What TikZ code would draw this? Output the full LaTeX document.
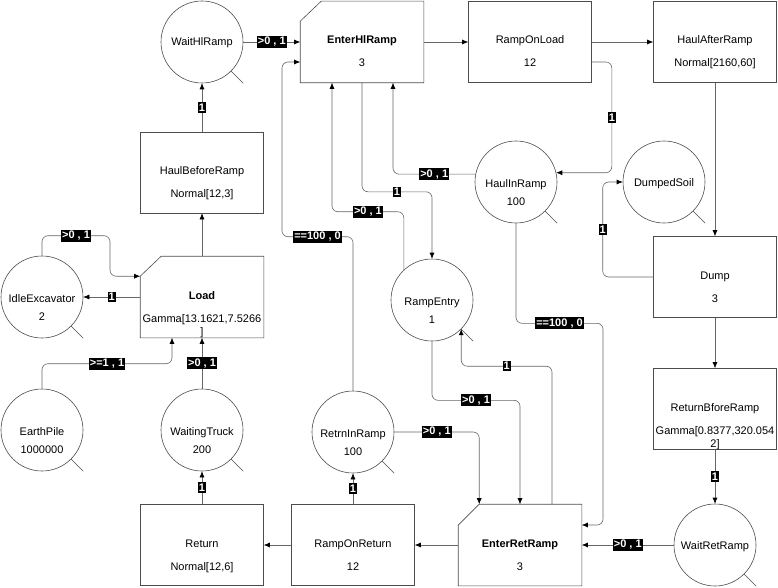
\documentclass[tikz,border=0pt]{standalone}
\usepackage{fontspec}
\setmainfont{Liberation Sans}
\usetikzlibrary{arrows.meta,calc}

\begin{document}
\begin{tikzpicture}[x=1pt, y=-1pt, >={Latex[length=6pt,width=5pt,color=black]}, semithick,
    font=\fontsize{11}{13}\selectfont,
    act/.style={rectangle, draw=black!70, minimum width=123pt, minimum height=81pt, inner sep=0pt},
    entry/.style={act, draw=none},
    place/.style={circle, draw=black!70, minimum size=82pt, inner sep=0pt},
    txt/.style={text width=124pt, align=center, anchor=base, inner sep=0pt},
    lab/.style={sharp corners, fill=black, text=white, font=\fontsize{11}{13}\selectfont\bfseries, inner xsep=1pt, inner ysep=1.5pt},
    flow/.style={->, draw=black!60, rounded corners=6pt},
    tail/.style={draw=black!70}]
    \useasboundingbox (0,0) rectangle (778,588);

    % activities
    \node[act]   (hbr)  at (202,172.5) {};
    \node[entry] (load) at (202,297)   {};
    \node[act]   (ret)  at (202,545)   {};
    \node[act]   (ror)  at (353,545)   {};
    \node[entry] (err)  at (520,545)   {};
    \node[entry] (ehr)  at (362,42)    {};
    \node[act]   (rol)  at (530,42)    {};
    \node[act]   (har)  at (715,42)    {};
    \node[act]   (dump) at (715,277)   {};
    \node[act]   (rbr)  at (715,409)   {};

    % cut corner of the entry activities
    \draw[draw=black!70] ($(ehr.north west)+(0,20)$) -- ($(ehr.north west)+(21,0)$) -- (ehr.north east) -- (ehr.south east) -- (ehr.south west) -- cycle;
    \draw[draw=black!70] ($(load.north west)+(0,20)$) -- ($(load.north west)+(21,0)$) -- (load.north east) -- (load.south east) -- (load.south west) -- cycle;
    \draw[draw=black!70] ($(err.north west)+(0,21)$) -- ($(err.north west)+(21,0)$) -- (err.north east) -- (err.south east) -- (err.south west) -- cycle;

    % queues
    \node[place] (wh)    at (202,42)  {};
    \node[place] (idle)  at (42,297)  {};
    \node[place] (earth) at (42,430)  {};
    \node[place] (wt)    at (202,430) {};
    \node[place] (rir)   at (353,432) {};
    \node[place] (wrr)   at (715,545) {};
    \node[place] (ds)    at (664,182) {};
    \node[place] (hir)   at (516,182) {};
    \node[place] (re)    at (432,300) {};

    \draw[tail] (wh.south east)    -- ++(12,12);
    \draw[tail] (idle.south east)  -- ++(12,12);
    \draw[tail] (earth.south east) -- ++(12,12);
    \draw[tail] (wt.south east)    -- ++(12,12);
    \draw[tail] (rir.south east)   -- ++(12,12);
    \draw[tail] (wrr.south east)   -- ++(12,12);
    \draw[tail] (ds.south east)    -- ++(12,12);
    \draw[tail] (hir.south east)   -- ++(12,12);
    \draw[tail] (re.south east)    -- ++(12,12);

    % texts
    \node[txt] (hbr-t)  at ([yshift=-2pt]hbr.center)  {HaulBeforeRamp\\[10pt]Normal[12,3]};
    \node[txt] (load-t) at ([yshift=-2pt]load.center) {\textbf{Load}\\[10pt]Gamma[13.1621,7.5266\\]};
    \node[txt] (ret-t)  at ([yshift=-2pt]ret.center)  {Return\\[10pt]Normal[12,6]};
    \node[txt] (ror-t)  at ([yshift=-2pt]ror.center)  {RampOnReturn\\[10pt]12};
    \node[txt] (err-t)  at ([yshift=-2pt]err.center)  {\textbf{EnterRetRamp}\\[10pt]3};
    \node[txt] (ehr-t)  at ([yshift=-2pt]ehr.center)  {\textbf{EnterHlRamp}\\[10pt]3};
    \node[txt] (rol-t)  at ([yshift=-2pt]rol.center)  {RampOnLoad\\[10pt]12};
    \node[txt] (har-t)  at ([yshift=-2pt]har.center)  {HaulAfterRamp\\[10pt]Normal[2160,60]};
    \node[txt] (dump-t) at ([yshift=-2pt]dump.center) {Dump\\[10pt]3};
    \node[txt] (rbr-t)  at ([yshift=-2pt]rbr.center)  {ReturnBforeRamp\\[10pt]Gamma[0.8377,320.054\\2]};

    \node[txt] (wh-t)    at ([yshift=-4pt]wh.center)    {WaitHlRamp};
    \node[txt] (idle-t)  at ([yshift=-5pt]idle.center)  {IdleExcavator\\[5pt]2};
    \node[txt] (earth-t) at ([yshift=-5pt]earth.center) {EarthPile\\[5pt]1000000};
    \node[txt] (wt-t)    at ([yshift=-5pt]wt.center)    {WaitingTruck\\[5pt]200};
    \node[txt] (rir-t)   at ([yshift=-5pt]rir.center)   {RetrnInRamp\\[5pt]100};
    \node[txt] (wrr-t)   at ([yshift=-4pt]wrr.center)   {WaitRetRamp};
    \node[txt] (ds-t)    at ([yshift=-4pt]ds.center)    {DumpedSoil};
    \node[txt] (hir-t)   at ([yshift=-5pt]hir.center)   {HaulInRamp\\[5pt]100};
    \node[txt] (re-t)    at ([yshift=-5pt]re.center)    {RampEntry\\[5pt]1};

    % flows
    \draw[flow] (wh)   -- node[lab] {>0 , 1} (ehr);
    \draw[flow] (ehr)  -- (rol);
    \draw[flow] (rol)  -- (har);
    \draw[flow] (har)  -- (dump);
    \draw[flow] (dump) -- (rbr);
    \draw[flow] (rbr)  -- node[lab] {1} (wrr);
    \draw[flow] (wrr)  -- node[lab] {>0 , 1} (err);
    \draw[flow] (err)  -- (ror);
    \draw[flow] (ror)  -- (ret);
    \draw[flow] (ror)  -- node[lab] {1} (rir);
    \draw[flow] (ret)  -- node[lab] {1} (wt);
    \draw[flow] (wt)   -- node[lab] {>0 , 1} (load);
    \draw[flow] (load) -- (hbr);
    \draw[flow] (load) -- node[lab] {1} (idle);
    \draw[flow] (hbr)  -- node[lab] {1} (wh);

    \draw[flow] (idle.north) |- node[lab, pos=0.75] {>0 , 1} ++(68,-20) |- ($(load.north west)+(0,20)$);
    \draw[flow] (earth.north) -- ++(0,-25) -| node[lab, pos=0.25] {>=1 , 1} ([xshift=-30pt]load.south);
    \draw[flow] (dump.west) -| node[lab, pos=0.75] {1} ([xshift=-20pt]ds.west) -- (ds.west);
    \draw[flow] ([yshift=-20pt]rol.east) -- ++(20,0) |- node[lab, pos=0.25] {1} (hir.13);
    \draw[flow] (hir.169) -| node[lab, pos=0.25] {>0 , 1} ([xshift=31pt]ehr.south);
    \draw[flow] (ehr.south) -- ++(0,109) -| node[lab, pos=0.25] {1} (re.north);
    \draw[flow] (re.133) -- ++(0,-58) -| node[lab, pos=0.25] {>0 , 1} ([xshift=-30pt]ehr.south);
    \draw[flow] (rir.north) |- node[lab, pos=0.75] {==100 , 0} ++(-71,-154) |- ([yshift=-20pt]ehr.west);
    \draw[flow] (re.south) -- ++(0,59) -| node[lab, pos=0.25] {>0 , 1} (err.north);
    \draw[flow] (rir.east) -| node[lab, pos=0.25] {>0 , 1} ($(err.north west)+(21,0)$);
    \draw[flow] ([xshift=32pt]err.north) -- ++(0,-138) -| node[lab, pos=0.25] {1} (re.south east);
    \draw[flow] (hir.south) -- ++(0,100) -- node[lab] {==100 , 0} ++(87,0) |- ([yshift=20pt]err.east);
\end{tikzpicture}
\end{document}
